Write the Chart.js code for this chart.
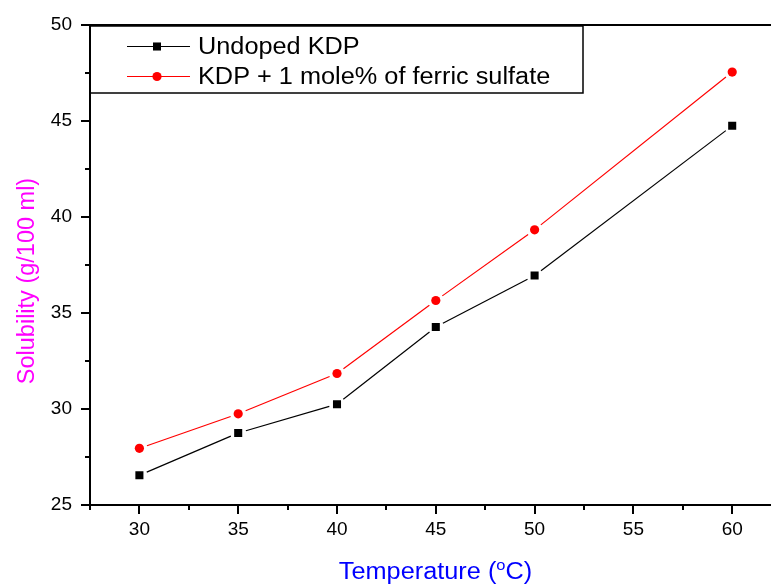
<!DOCTYPE html>
<html>
<head>
<meta charset="utf-8">
<title>Solubility of KDP</title>
<script src="https://cdn.jsdelivr.net/npm/chart.js@4.4.0/dist/chart.umd.min.js"></script>
<style>
  html, body { margin: 0; padding: 0; background: #fff; overflow: hidden; }
  #wrap { position: relative; width: 800px; height: 584px; }
</style>
</head>
<body>
<div id="wrap"><canvas id="solubilityChart"></canvas></div>
<script>
const temperatures = [30, 35, 40, 45, 50, 60];
const undopedKdp = [26.55, 28.75, 30.25, 34.27, 36.95, 44.75];
const dopedKdp = [27.95, 29.75, 31.85, 35.65, 39.33, 47.55];
const seriesNames = ["Undoped KDP", "KDP + 1 mole% of ferric sulfate"];

const xTicks = [27.5, 30, 32.5, 35, 37.5, 40, 42.5, 45, 47.5, 50, 52.5, 55, 57.5, 60, 62.5];
const yTicks = [25, 27.5, 30, 32.5, 35, 37.5, 40, 42.5, 45, 47.5, 50];

const FONT = "'Liberation Sans', Arial, sans-serif";
const STRETCH = 1.1;

function toPoints(values) {
  return temperatures.map((t, i) => ({ x: t, y: values[i] }));
}

// lines stop short of each marker, the way Origin draws them
const gappedLines = {
  id: "gappedLines",
  beforeDatasetsDraw(chart) {
    const ctx = chart.ctx;
    const gap = 8;
    chart.data.datasets.forEach((ds, i) => {
      const pts = chart.getDatasetMeta(i).data;
      ctx.save();
      ctx.strokeStyle = ds.borderColor;
      ctx.lineWidth = 1.2;
      for (let k = 0; k < pts.length - 1; k++) {
        const a = pts[k];
        const b = pts[k + 1];
        const dx = b.x - a.x;
        const dy = b.y - a.y;
        const len = Math.hypot(dx, dy);
        const ux = dx / len;
        const uy = dy / len;
        ctx.beginPath();
        ctx.moveTo(a.x + ux * gap, a.y + uy * gap);
        ctx.lineTo(b.x - ux * gap, b.y - uy * gap);
        ctx.stroke();
      }
      ctx.restore();
    });
  }
};

// axis frame, outward ticks, legend box and axis titles
const frame = {
  id: "frame",
  afterDraw(chart) {
    const ctx = chart.ctx;
    const area = chart.chartArea;
    const xs = chart.scales.x;
    const ys = chart.scales.y;

    ctx.save();
    ctx.strokeStyle = "#000";
    ctx.lineWidth = 2;
    ctx.beginPath();
    ctx.moveTo(area.left, area.top);
    ctx.lineTo(area.left, area.bottom);
    ctx.lineTo(area.right, area.bottom);
    ctx.moveTo(area.left, area.top);
    ctx.lineTo(area.right, area.top);
    ctx.stroke();

    ctx.beginPath();
    xTicks.forEach((v) => {
      const px = Math.round(xs.getPixelForValue(v));
      const len = v % 5 === 0 ? 9 : 5;
      ctx.moveTo(px, area.bottom);
      ctx.lineTo(px, area.bottom + len);
    });
    yTicks.forEach((v) => {
      const py = Math.round(ys.getPixelForValue(v));
      const len = v % 5 === 0 ? 9 : 5;
      ctx.moveTo(area.left, py);
      ctx.lineTo(area.left - len, py);
    });
    ctx.stroke();

    // legend
    ctx.lineWidth = 1.5;
    ctx.strokeRect(area.left, area.top + 1, 493, 67);
    const rows = [area.top + 21.5, area.top + 51.5];
    chart.data.datasets.forEach((ds, i) => {
      const y = rows[i];
      ctx.strokeStyle = ds.borderColor;
      ctx.fillStyle = ds.backgroundColor;
      ctx.lineWidth = 1.2;
      ctx.beginPath();
      ctx.moveTo(127, y);
      ctx.lineTo(190, y);
      ctx.stroke();
      Chart.helpers.drawPoint(ctx, {
        pointStyle: ds.pointStyle,
        radius: ds.pointRadius,
        borderWidth: 0
      }, 157, y);
      ctx.fillStyle = "#000";
      ctx.font = "23px " + FONT;
      ctx.textBaseline = "middle";
      ctx.textAlign = "left";
      ctx.save();
      ctx.translate(198, y + 1);
      ctx.scale(STRETCH, 1);
      ctx.fillText(ds.label, 0, 0);
      ctx.restore();
    });

    // x title with superscript degree
    ctx.fillStyle = "#0000ff";
    ctx.textBaseline = "alphabetic";
    ctx.textAlign = "left";
    const big = "23px " + FONT;
    const small = "15px " + FONT;
    ctx.font = big;
    const w1 = ctx.measureText("Temperature (").width;
    const w3 = ctx.measureText("C)").width;
    ctx.font = small;
    const w2 = ctx.measureText("o").width;
    const total = (w1 + w2 + w3) * STRETCH;
    ctx.save();
    ctx.translate(435.5 - total / 2, 579);
    ctx.scale(STRETCH, 1);
    ctx.font = big;
    ctx.fillText("Temperature (", 0, 0);
    ctx.font = small;
    ctx.fillText("o", w1, -9);
    ctx.font = big;
    ctx.fillText("C)", w1 + w2, 0);
    ctx.restore();

    // y title
    ctx.save();
    ctx.fillStyle = "#ff00ff";
    ctx.font = "23.5px " + FONT;
    ctx.textAlign = "center";
    ctx.translate(34, 281);
    ctx.rotate(-Math.PI / 2);
    ctx.fillText("Solubility (g/100 ml)", 0, 0);
    ctx.restore();

    ctx.restore();
  }
};

new Chart(document.getElementById("solubilityChart"), {
  type: "line",
  data: {
    datasets: [
      {
        label: seriesNames[0],
        data: toPoints(undopedKdp),
        borderColor: "#000000",
        backgroundColor: "#000000",
        pointStyle: "rect",
        pointRadius: 5.7,
        pointBorderWidth: 0,
        showLine: false
      },
      {
        label: seriesNames[1],
        data: toPoints(dopedKdp),
        borderColor: "#ff0000",
        backgroundColor: "#ff0000",
        pointStyle: "circle",
        pointRadius: 4.6,
        pointBorderWidth: 0,
        showLine: false
      }
    ]
  },
  options: {
    responsive: true,
    maintainAspectRatio: false,
    animation: false,
    layout: {
      padding: { top: 25, right: 18.4, left: 0, bottom: 0 }
    },
    plugins: {
      legend: { display: false },
      tooltip: { enabled: false }
    },
    scales: {
      x: {
        type: "linear",
        min: 27.5,
        max: 62.5,
        afterBuildTicks(scale) {
          scale.ticks = xTicks.map((v) => ({ value: v }));
        },
        afterFit(scale) {
          scale.height = 79;
        },
        // tick marks are drawn by the frame plugin; tickLength only spaces the labels
        grid: { display: false, drawTicks: true, tickLength: 11 },
        border: { display: false },
        ticks: {
          autoSkip: false,
          maxRotation: 0,
          padding: 2,
          color: "#000",
          font: { family: FONT, size: 19 },
          callback: (v) => (v % 5 === 0 ? v : "")
        }
      },
      y: {
        min: 25,
        max: 50,
        afterBuildTicks(scale) {
          scale.ticks = yTicks.map((v) => ({ value: v }));
        },
        afterFit(scale) {
          scale.width = 90;
        },
        grid: { display: false, drawTicks: true, tickLength: 16 },
        border: { display: false },
        ticks: {
          autoSkip: false,
          padding: 2,
          color: "#000",
          font: { family: FONT, size: 19 },
          callback: (v) => (v % 5 === 0 ? v : "")
        }
      }
    }
  },
  plugins: [gappedLines, frame]
});
</script>
</body>
</html>
